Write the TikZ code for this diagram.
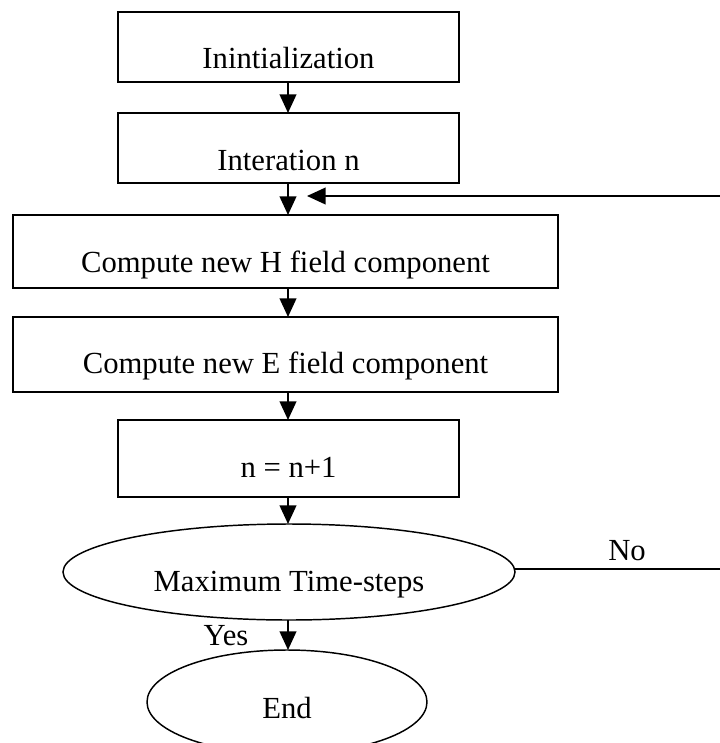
\documentclass[tikz,border=0pt]{standalone}
\usepackage{fontspec}
\setmainfont{Liberation Serif}
\usetikzlibrary{arrows.meta,shapes.geometric}
\begin{document}
\begin{tikzpicture}[x=0.75pt,y=-0.75pt,
  every node/.style={font=\fontsize{23}{27}\selectfont},
  stepbox/.style={draw,line width=1.5pt,rectangle,inner sep=0pt,outer sep=0pt},
  narrowbox/.style={stepbox,minimum width=255.75pt},
  widebox/.style={stepbox,minimum width=408.75pt},
  oval/.style={draw,line width=1.1pt,ellipse,inner sep=0pt,outer sep=0pt},
  flow/.style={line width=1.5pt,-{Triangle[width=12.5pt,length=14pt]}},
  plain/.style={line width=1.5pt}]
\useasboundingbox (0,0) rectangle (719,743);

% process boxes
\node[narrowbox,text height=42pt,text depth=10.5pt] (init) at (288.5,47) {Inintialization};
\node[narrowbox,text height=42.75pt,text depth=9.75pt] (iter) at (288.5,148) {Interation n};
\node[widebox,text height=42.75pt,text depth=12pt] (hfield) at (285.5,251.5) {Compute new H field component};
\node[widebox,text height=42pt,text depth=14.25pt] (efield) at (285.5,354.5) {Compute new E field component};
\node[narrowbox,text height=42.75pt,text depth=15pt] (incr) at (288.5,458.5) {n = n+1};

% decision and terminator
\node[oval,minimum width=339pt,minimum height=72pt,text height=30pt,text depth=1.5pt] (check) at (289,572) {Maximum Time-steps};
\node[oval,minimum width=210pt,minimum height=78pt,text height=25pt,text depth=1pt] (stop) at (287,702) {End};

% main flow
\draw[flow] (init.south -| 288,0) -- (288,113);
\draw[flow] (288,183) -- (288,215);
\draw[flow] (288,288) -- (288,317);
\draw[flow] (288,392) -- (288,420);
\draw[flow] (288,497) -- (check.north -| 288,0);
\draw[flow] (check.south -| 288,0) -- (stop.north -| 288,0);

% loop back
\coordinate (loopin) at (307,196);
\coordinate (turnlow) at (730,569);
\coordinate (turnhigh) at (730,196);
\draw[plain] (check.east |- 0,569) -- (turnlow) -- (turnhigh);
\draw[flow] (turnhigh) -- (loopin);

% branch labels
\node[anchor=base] (nolab) at (627,560) {No};
\node[anchor=base] (yeslab) at (226,645) {Yes};
\end{tikzpicture}
\end{document}
